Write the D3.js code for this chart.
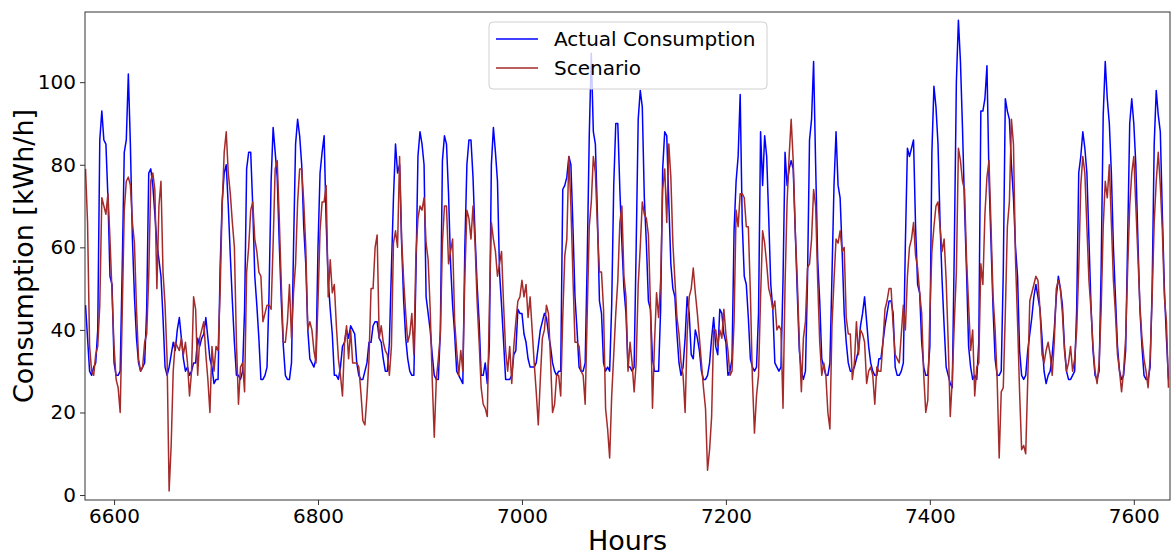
<!DOCTYPE html>
<html>
<head>
<meta charset="utf-8">
<script src="https://cdn.jsdelivr.net/npm/d3@7"></script>
<style>
  html, body { margin: 0; padding: 0; background: #fff; }
  svg { display: block; font-family: "DejaVu Sans", sans-serif; }
</style>
</head>
<body>
<svg id="chart" width="1176" height="556"></svg>
<script>
// Hourly consumption, sampled every two hours starting at hour 6572
const hourStart = 6572;
const hourStep = 2;

const actual = [
  46,38,30,29,31,32,40,86,93,86, 85,72,53,51,32,29,29,30,55,83, 86,102,85,62,48,38,32,30,31,32, 45,78,79,75,68,61,57,53,43,31, 29,31,34,37,35,40,43,38,33,30, 31,29,30,32,
  32,38,36,38,39,43,38,33,31,27, 28,28,55,71,78,80,70,58,47,37, 29,29,28,30,45,79,83,83,70,53, 46,38,28,28,29,31,49,76,89,83, 77,61,47,36,29,28,28,32,60,85, 91,87,80,
  65,56,40,33,32,31,33,60,78,83, 87,66,52,45,39,29,29,28,31,36, 37,40,38,41,40,39,32,29,28,28, 30,32,37,37,41,42,42,38,37,33, 30,30,37,55,72,85,78,80,61,47, 38,33,30,
  29,29,53,82,88,85,80,48,44,40, 34,29,28,28,40,81,87,85,73,56, 46,39,30,29,28,27,60,80,86,86, 77,63,51,42,29,29,32,27,36,80, 89,83,76,54,46,37,28,28,28,29, 34,35,45,
  44,44,39,37,33,31,31,31,32,36, 40,42,44,43,39,36,32,30,29,30, 30,74,75,77,82,80,65,48,40,31, 30,30,32,57,87,107,88,85,68,47, 44,32,30,31,30,46,75,90,90,74, 61,50,44,
  31,31,30,31,60,91,98,94,72,61, 47,45,33,30,30,30,45,79,88,87, 71,56,50,48,39,32,29,31,38,48, 44,34,33,40,38,35,30,28,28,29, 32,38,43,36,34,45,44,39,37,29, 30,33,64,
  76,82,97,66,53,51,43,33,31,30, 31,44,88,75,87,82,67,51,45,32, 31,30,31,52,83,75,79,81,79,64, 49,35,30,28,30,52,86,91,105,80, 57,47,33,31,29,29,32,53,75,88, 75,72,59,
  44,37,32,30,30,31,33,35,41,44, 48,42,36,32,30,29,29,33,33,37, 41,44,47,47,44,31,29,29,30,32, 61,84,82,84,86,65,51,49,37,31, 29,29,36,83,99,94,85,66,52,41, 31,29,27,
  26,60,100,115,105,89,70,54,36,31, 28,29,28,37,93,93,96,104,77,61, 45,33,29,29,30,54,96,93,91,80, 72,60,53,35,29,28,29,35,39,43, 48,51,48,45,38,30,27,29,30,34, 40,48,53,
  50,46,36,30,28,28,29,30,45,78, 82,88,84,78,62,46,35,29,28,30, 55,92,105,96,90,78,60,48,36,30, 28,29,35,62,90,96,90,80,62,45, 36,29,28,28,31,50,85,98,92,88, 68,50,38,28
];

const scenario = [
  79,66,36,30,29,34,36,46,72,70, 68,73,62,49,36,28,26,20,44,69, 76,77,75,66,61,45,33,30,31,37, 39,53,76,78,74,50,70,76,54,46, 33,1,12,30,37,36,35,38,34,37, 32,24,30,48,
  45,29,38,40,42,34,28,20,36,30, 36,35,49,70,83,88,78,73,66,60, 37,22,31,32,25,54,60,69,71,62, 59,54,53,42,44,46,46,45,61,79, 81,67,51,37,37,42,51,38,49,56, 71,79,79,
  71,60,40,42,40,35,32,47,64,71, 71,75,48,57,49,51,41,33,29,24, 37,41,33,40,32,32,32,31,25,18, 17,24,33,50,50,60,63,38,41,37, 35,34,29,36,61,64,60,82,62,52, 44,37,39,
  44,34,58,67,70,69,72,61,57,45, 28,14,28,33,39,61,70,70,56,59, 62,42,35,29,35,30,53,69,67,62, 70,61,47,37,26,22,21,19,45,66, 62,59,53,56,59,46,35,30,36,27, 36,42,47,
  48,52,48,51,43,48,40,32,25,17, 28,38,40,46,44,33,20,22,29,29, 24,43,58,62,82,70,53,37,37,36, 30,29,22,44,65,71,82,78,65,54, 54,45,21,16,9,24,34,44,52,66, 70,53,48,
  30,37,32,25,32,51,60,71,68,67, 63,46,21,37,49,43,52,74,79,66, 85,77,61,52,43,39,32,29,20,39, 48,50,55,49,44,38,32,26,21,6, 11,19,40,40,36,40,38,45,39,35, 29,30,42,
  69,65,73,73,72,65,65,49,28,15, 24,29,48,64,61,56,50,48,45,47, 40,41,40,21,51,71,82,91,81,64, 52,37,25,38,42,55,56,62,74,70, 52,37,29,32,29,20,16,41,52,62, 61,64,59,
  60,43,39,39,28,32,42,34,40,39, 37,27,30,31,29,22,31,30,30,37, 45,47,50,50,41,34,33,32,39,46, 40,53,60,62,66,58,55,49,44,29, 20,23,44,59,65,70,71,65,59,62, 52,37,19,
  28,42,54,84,81,76,74,57,46,35, 40,24,31,32,56,51,68,77,81,65, 48,40,28,9,25,26,44,65,71,91, 85,57,42,25,11,12,10,28,47,49, 51,53,52,45,34,32,35,37,34,29, 37,50,52,
  50,44,35,30,32,36,30,33,40,55, 75,82,78,65,52,45,36,30,27,32, 45,65,76,72,80,66,52,44,34,30, 25,30,38,55,70,78,82,70,58,46, 38,33,30,26,33,48,66,76,83,75, 64,48,42,26
];

const xTicks = [6600, 6800, 7000, 7200, 7400, 7600];
const yTicks = [0, 20, 40, 60, 80, 100];
const seriesNames = ["Actual Consumption", "Scenario"];
const seriesColors = ["#0000ff", "#a52a2a"];

const svg = d3.select("#chart");
const plot = { left: 85, right: 1170, top: 12, bottom: 500 };

const x = d3.scaleLinear().domain([6571.5, 7635.5]).range([plot.left, plot.right]);
const y = d3.scaleLinear().domain([-1.2, 117]).range([plot.bottom, plot.top]);

const hourOf = i => hourStart + i * hourStep;

// clip lines to the axes box
svg.append("defs").append("clipPath").attr("id", "plotClip")
  .append("rect")
  .attr("x", plot.left).attr("y", plot.top)
  .attr("width", plot.right - plot.left).attr("height", plot.bottom - plot.top);

const line = d3.line()
  .x((d, i) => x(hourOf(i)))
  .y(d => y(d));

const lines = svg.append("g").attr("clip-path", "url(#plotClip)");
[actual, scenario].forEach((series, k) => {
  lines.append("path")
    .datum(series)
    .attr("fill", "none")
    .attr("stroke", seriesColors[k])
    .attr("stroke-width", 1.5)
    .attr("stroke-linejoin", "round")
    .attr("d", line);
});

// axes
const xAxis = svg.append("g")
  .attr("transform", `translate(0,${plot.bottom})`)
  .call(d3.axisBottom(x).tickValues(xTicks).tickSize(5).tickPadding(4).tickFormat(d3.format("d")));
const yAxis = svg.append("g")
  .attr("transform", `translate(${plot.left},0)`)
  .call(d3.axisLeft(y).tickValues(yTicks).tickSize(5).tickPadding(4).tickFormat(d3.format("d")));

[xAxis, yAxis].forEach(a => {
  a.select(".domain").remove();
  a.selectAll(".tick line").attr("stroke", "#333").attr("stroke-width", 1);
  a.selectAll(".tick text").attr("fill", "#000")
    .style("font-size", "20px").style("font-family", "DejaVu Sans, sans-serif");
});

// frame
svg.append("rect")
  .attr("x", plot.left).attr("y", plot.top)
  .attr("width", plot.right - plot.left).attr("height", plot.bottom - plot.top)
  .attr("fill", "none").attr("stroke", "#333").attr("stroke-width", 1);

// axis titles
svg.append("text")
  .attr("x", (plot.left + plot.right) / 2).attr("y", 550)
  .attr("text-anchor", "middle")
  .style("font-size", "27px")
  .text("Hours");

svg.append("text")
  .attr("transform", `translate(33,${(plot.top + plot.bottom) / 2}) rotate(-90)`)
  .attr("text-anchor", "middle")
  .style("font-size", "27px")
  .text("Consumption [kWh/h]");

// legend
const legend = svg.append("g");
legend.append("rect")
  .attr("x", 489).attr("y", 22).attr("width", 278).attr("height", 67).attr("rx", 4)
  .attr("fill", "#fff").attr("fill-opacity", 0.8)
  .attr("stroke", "#d0d0d0").attr("stroke-width", 1);
seriesNames.forEach((name, k) => {
  const ly = 39 + k * 29;
  legend.append("line")
    .attr("x1", 496).attr("x2", 538).attr("y1", ly).attr("y2", ly)
    .attr("stroke", seriesColors[k]).attr("stroke-width", 1.5);
  legend.append("text")
    .attr("x", 554).attr("y", ly + 7)
    .style("font-size", "20px")
    .text(name);
});
</script>
</body>
</html>
